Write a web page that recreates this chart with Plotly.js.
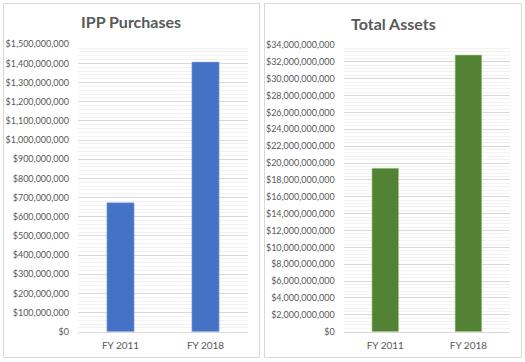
<!DOCTYPE html>
<html>
<head>
<meta charset="utf-8">
<script src="https://cdn.plot.ly/plotly-3.0.1.min.js"></script>
<style>html,body{margin:0;padding:0;background:#fff;}#chart{width:525px;height:362px;}</style>
</head>
<body>
<div id="chart"></div>
<script>
const categories = ["FY 2011", "FY 2018"];
const ippPurchases = [673000000, 1407000000];
const totalAssets = [19380000000, 32810000000];
const chartTitles = ["IPP Purchases", "Total Assets"];

const W = 525, H = 362;
const px = v => v / W;
const py = v => 1 - v / H;
const txt = '#595959';
const fnt = 'Lato, "Open Sans", sans-serif';

const traces = [
  {type: 'bar', x: categories, y: ippPurchases, xaxis: 'x', yaxis: 'y',
   marker: {color: '#4472C4', line: {color: '#8FAADC', width: 0.6}}, width: 0.32, hoverinfo: 'none'},
  {type: 'bar', x: categories, y: totalAssets, xaxis: 'x2', yaxis: 'y2',
   marker: {color: '#548235', line: {color: '#A9D18E', width: 0.6}}, width: 0.32, hoverinfo: 'none'}
];

function yax(domain, range, dtick, anchor) {
  return {
    domain: domain, range: range, dtick: dtick, tick0: 0, anchor: anchor,
    tickprefix: '$', tickformat: ',.0f', showgrid: true, gridcolor: '#d9d9d9', gridwidth: 1,
    minor: {dtick: dtick / 5, showgrid: true, gridcolor: '#f2f2f2', gridwidth: 1},
    zeroline: false, showline: false, ticks: '', ticklen: 0, ticklabelstandoff: 8,
    tickfont: {family: fnt, size: 9, color: txt}, fixedrange: true
  };
}
function xax(domain, anchor) {
  return {
    domain: domain, anchor: anchor, showgrid: false, zeroline: false,
    showline: true, linecolor: '#d9d9d9', linewidth: 1, ticks: '', ticklabelstandoff: 4,
    tickfont: {family: fnt, size: 10, color: txt}, fixedrange: true
  };
}

const layout = {
  width: W, height: H,
  margin: {l: 0, r: 0, t: 0, b: 0},
  paper_bgcolor: '#ffffff', plot_bgcolor: 'rgba(0,0,0,0)',
  showlegend: false, bargap: 0.68,
  xaxis: xax([px(78), px(248)], 'y'),
  yaxis: yax([py(331.7), py(44.3)], [0, 1500000000], 100000000, 'x'),
  xaxis2: xax([px(343.7), px(510)], 'y2'),
  yaxis2: yax([py(331.7), py(45)], [0, 34000000000], 2000000000, 'x2'),
  shapes: [
    {type: 'rect', xref: 'paper', yref: 'paper', x0: px(3.5), x1: px(259.5), y0: py(357.5), y1: py(3.5),
     line: {color: '#d9d9d9', width: 1}},
    {type: 'rect', xref: 'paper', yref: 'paper', x0: px(264.5), x1: px(521.5), y0: py(357.5), y1: py(3.5),
     line: {color: '#d9d9d9', width: 1}}
  ],
  annotations: [
    {text: chartTitles[0], xref: 'paper', yref: 'paper', x: px(131), y: py(22), xanchor: 'center', yanchor: 'middle',
     showarrow: false, font: {family: fnt, size: 16, color: txt, weight: 700}},
    {text: chartTitles[1], xref: 'paper', yref: 'paper', x: px(393), y: py(23), xanchor: 'center', yanchor: 'middle',
     showarrow: false, font: {family: fnt, size: 16, color: txt, weight: 700}}
  ]
};

Plotly.newPlot('chart', traces, layout, {displayModeBar: false, staticPlot: true});
</script>
</body>
</html>
